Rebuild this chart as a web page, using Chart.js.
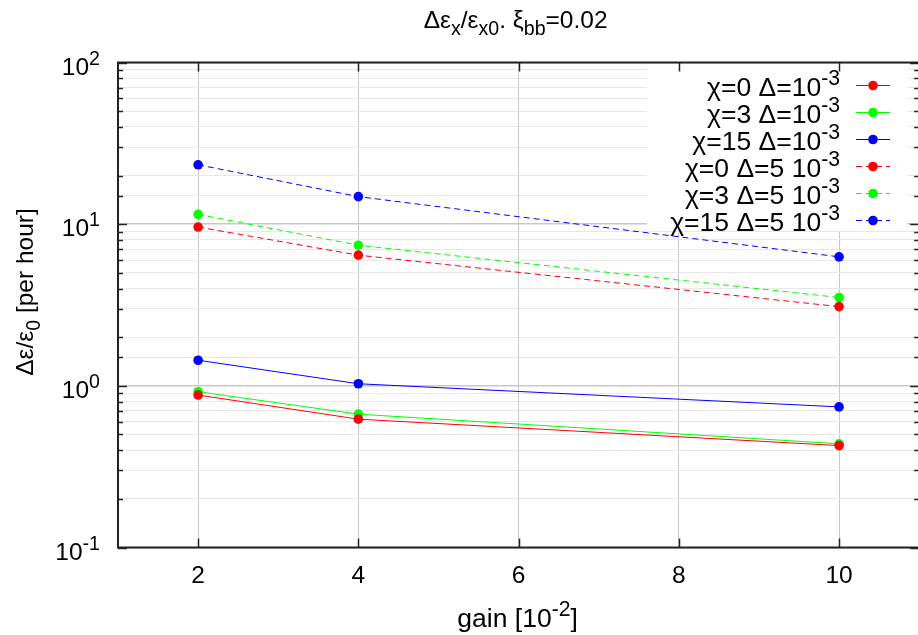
<!DOCTYPE html>
<html>
<head>
<meta charset="utf-8">
<script src="https://cdn.jsdelivr.net/npm/chart.js@4/dist/chart.umd.min.js"></script>
<style>
html, body { margin: 0; padding: 0; overflow: hidden; background: #fff; }
canvas { display: block; }
</style>
</head>
<body>
<canvas id="c" width="924" height="635"></canvas>
<script>
// data
var gains = [2, 4, 10];
var xTicks = [2, 4, 6, 8, 10];

var chi0_d1  = [0.877, 0.622, 0.427];
var chi3_d1  = [0.92, 0.668, 0.438];
var chi15_d1 = [1.44, 1.03, 0.741];
var chi0_d5  = [9.6, 6.43, 3.09];
var chi3_d5  = [11.5, 7.41, 3.52];
var chi15_d5 = [23.3, 14.8, 6.28];

var labels = [
    'χ=0 Δ=10^{-3}', 'χ=3 Δ=10^{-3}', 'χ=15 Δ=10^{-3}',
    'χ=0 Δ=5 10^{-3}', 'χ=3 Δ=5 10^{-3}', 'χ=15 Δ=5 10^{-3}'
];
var series = [chi0_d1, chi3_d1, chi15_d1, chi0_d5, chi3_d5, chi15_d5];
var colors = ['#ff0000', '#00ff00', '#0000ff', '#ff0000', '#00ff00', '#0000ff'];

var FONT = '"Liberation Sans", Arial, sans-serif';

// tiny markup: ^{..} superscript, _{..} subscript
function parseRich(s){
    var out = [], re = /([\^_])\{([^}]*)\}/g, last = 0, m;
    while ((m = re.exec(s))) {
        if (m.index > last) out.push({t: s.slice(last, m.index), k: ''});
        out.push({t: m[2], k: m[1]});
        last = re.lastIndex;
    }
    if (last < s.length) out.push({t: s.slice(last), k: ''});
    return out;
}

function drawRich(ctx, s, x, y, size, align){
    var parts = parseRich(s);
    var w = 0;
    parts.forEach(function(p){
        p.size = p.k ? size * 0.8 : size;
        ctx.font = p.size + 'px ' + FONT;
        p.w = ctx.measureText(p.t).width;
        w += p.w;
    });
    var cx = x;
    if (align === 'center') cx = x - w / 2;
    if (align === 'right') cx = x - w;
    ctx.textAlign = 'left';
    ctx.textBaseline = 'alphabetic';
    parts.forEach(function(p){
        ctx.font = p.size + 'px ' + FONT;
        var dy = p.k === '^' ? -0.4 * size : (p.k === '_' ? 0.28 * size : 0);
        ctx.fillText(p.t, cx, y + dy);
        cx += p.w;
    });
}

function isMajor(v){
    var l = Math.log10(v);
    return Math.abs(l - Math.round(l)) < 1e-9;
}

var datasets = series.map(function(vals, i){
    return {
        label: labels[i],
        data: gains.map(function(g, j){ return {x: g, y: vals[j]}; }),
        borderColor: colors[i],
        backgroundColor: colors[i],
        borderWidth: 1,
        borderDash: i < 3 ? [] : [6, 4],
        pointRadius: 4.8,
        pointBorderWidth: 0,
        showLine: true
    };
});

var gnuplotLook = {
    id: 'gnuplotLook',
    beforeDatasetsDraw: function(chart){
        // opaque key box
        var ctx = chart.ctx;
        ctx.save();
        ctx.fillStyle = '#fff';
        ctx.fillRect(647, 64, 260, 167);
        ctx.restore();
    },
    afterDatasetsDraw: function(chart){
        var ctx = chart.ctx, a = chart.chartArea;
        var xs = chart.scales.x, ys = chart.scales.y;
        ctx.save();

        // frame
        ctx.strokeStyle = '#222';
        ctx.lineWidth = 2;
        ctx.strokeRect(a.left, a.top, a.right - a.left, a.bottom - a.top);

        // inward tick marks
        ctx.lineWidth = 1.5;
        ctx.beginPath();
        xTicks.forEach(function(v){
            var px = Math.round(xs.getPixelForValue(v)) + 0.5;
            ctx.moveTo(px, a.bottom); ctx.lineTo(px, a.bottom - 9);
            ctx.moveTo(px, a.top); ctx.lineTo(px, a.top + 9);
        });
        ys.ticks.forEach(function(t){
            var py = Math.round(ys.getPixelForValue(t.value)) + 0.5;
            var len = isMajor(t.value) ? 9 : 5;
            ctx.moveTo(a.left, py); ctx.lineTo(a.left + len, py);
            ctx.moveTo(a.right, py); ctx.lineTo(a.right - len, py);
        });
        ctx.stroke();

        ctx.fillStyle = '#000';
        // y tick labels 10^n
        ys.ticks.forEach(function(t){
            if (!isMajor(t.value)) return;
            var py = ys.getPixelForValue(t.value);
            drawRich(ctx, '10^{' + Math.round(Math.log10(t.value)) + '}', 100, py + 12, 24.5, 'right');
        });
        // x tick labels
        xTicks.forEach(function(v){
            drawRich(ctx, String(v), xs.getPixelForValue(v), a.bottom + 35.5, 24.5, 'center');
        });

        // titles
        var midX = (a.left + a.right) / 2;
        drawRich(ctx, 'Δε_{x}/ε_{x0}. ξ_{bb}=0.02', midX - 3, 28, 24.5, 'center');
        drawRich(ctx, 'gain [10^{-2}]', midX - 1, 627, 26.5, 'center');
        ctx.save();
        ctx.translate(33, 292);
        ctx.rotate(-Math.PI / 2);
        drawRich(ctx, 'Δε/ε_{0} [per hour]', 0, 0, 24.5, 'center');
        ctx.restore();

        // key
        chart.data.datasets.forEach(function(ds, i){
            var y = 85 + i * 27;
            ctx.strokeStyle = ds.borderColor;
            ctx.lineWidth = 1;
            ctx.setLineDash(ds.borderDash);
            ctx.beginPath();
            ctx.moveTo(856, y + 0.5); ctx.lineTo(890, y + 0.5);
            ctx.stroke();
            ctx.setLineDash([]);
            ctx.fillStyle = ds.backgroundColor;
            ctx.beginPath();
            ctx.arc(873, y + 0.5, 4.8, 0, Math.PI * 2);
            ctx.fill();
            ctx.fillStyle = '#000';
            drawRich(ctx, ds.label, 840, y + 11, 26.5, 'right');
        });
        ctx.restore();
    }
};

Chart.defaults.font.family = FONT;

var chart = new Chart(document.getElementById('c'), {
    type: 'scatter',
    data: { datasets: datasets },
    options: {
        responsive: false,
        animation: false,
        layout: { padding: { top: 62.5, right: 2, left: 0, bottom: 0 } },
        plugins: { legend: { display: false }, title: { display: false }, tooltip: { enabled: false } },
        scales: {
            x: {
                type: 'linear', min: 1, max: 11,
                afterBuildTicks: function(scale){
                    scale.ticks = xTicks.map(function(v){ return {value: v}; });
                },
                afterFit: function(scale){ scale.height = 87.5; },
                ticks: { display: false },
                border: { display: false },
                grid: { color: '#c8c8c8', lineWidth: 1, drawTicks: false }
            },
            y: {
                type: 'logarithmic', min: 0.1, max: 100,
                afterFit: function(scale){ scale.width = 118; },
                ticks: { display: false },
                border: { display: false },
                grid: {
                    drawTicks: false,
                    color: function(ctx){ return ctx.tick && isMajor(ctx.tick.value) ? '#c8c8c8' : '#e8e8e8'; },
                    lineWidth: function(ctx){ return ctx.tick && isMajor(ctx.tick.value) ? 1.5 : 1; }
                }
            }
        }
    },
    plugins: [gnuplotLook]
});
</script>
</body>
</html>
